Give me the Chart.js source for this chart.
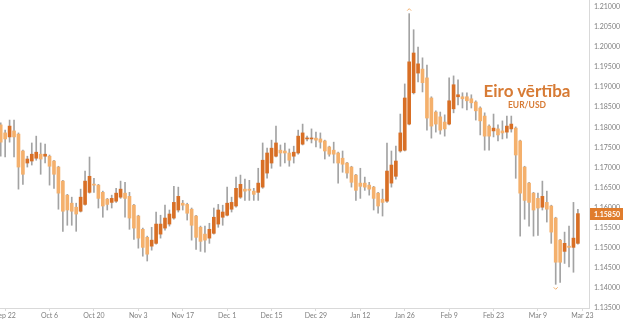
<!DOCTYPE html>
<html>
<head>
<meta charset="utf-8">
<script src="https://cdn.jsdelivr.net/npm/chart.js@4.4.1/dist/chart.umd.min.js"></script>
<style>
  html, body { margin: 0; padding: 0; background: #fff; }
  #wrap { position: relative; width: 623px; height: 322px; }
  #title { position: absolute; left: 447px; top: 82px; width: 160px; text-align: center;
           font: bold 17px Lato, sans-serif; line-height: 17px; color: #d77b35; }
  #subtitle { position: absolute; left: 447px; top: 101px; width: 160px; text-align: center;
              font: bold 8.5px Lato, sans-serif; line-height: 9px; color: #d77b35; }
</style>
</head>
<body>
<div id="wrap">
  <canvas id="chart" width="623" height="322"></canvas>
  <div id="title">Eiro vērtība</div>
  <div id="subtitle">EUR/USD</div>
</div>
<script>
// daily EUR/USD candles, Sep 19 .. Mar 20 (weekdays)
const opens = [
  1.1806,1.1786,1.1776,1.1791,1.1783,1.1741,1.1711,1.1716,1.1723,1.1733,
  1.1728,1.1728,1.1716,1.1701,1.1666,1.1631,1.1611,1.1601,1.1591,1.1608,
  1.1638,1.1658,1.1656,1.1638,1.1621,1.1613,1.1616,1.1626,1.1636,1.1628,
  1.1606,1.1579,1.1546,1.1526,1.1504,1.1511,1.1534,1.1549,1.1559,1.1574,
  1.1594,1.1611,1.1608,1.1596,1.1579,1.1551,1.1534,1.1524,1.1536,1.1559,
  1.1576,1.1581,1.1596,1.1604,1.1626,1.1646,1.1646,1.1641,1.1638,1.1651,
  1.1686,1.1711,1.1728,1.1743,1.1741,1.1736,1.1728,1.1736,1.1758,1.1771,
  1.1771,1.1773,1.1771,1.1766,1.1751,1.1743,1.1736,1.1723,1.1711,1.1701,
  1.1681,1.1661,1.1661,1.1656,1.1651,1.1636,1.1621,1.1616,1.1661,1.1678,
  1.1741,1.1743,1.1808,1.1886,1.1935,1.1945,1.1923,1.1873,1.1838,1.1826,
  1.1813,1.1808,1.1846,1.1876,1.1876,1.1876,1.1871,1.1863,1.1848,1.1828,
  1.1803,1.1791,1.1796,1.1791,1.1788,1.1796,1.1798,1.1766,1.1701,1.1661,
  1.1636,1.1623,1.1601,1.1613,1.1604,1.1574,1.1519,1.1491,1.1504,1.1501,
  1.1511
];
const highs = [
  1.1811,1.1793,1.1818,1.1818,1.1786,1.1743,1.1728,1.1761,1.1778,1.1761,
  1.1758,1.1731,1.1718,1.1703,1.1668,1.1633,1.1626,1.1611,1.1646,1.1691,
  1.1726,1.1673,1.1658,1.1641,1.1623,1.1631,1.1648,1.1666,1.1663,1.1638,
  1.1608,1.1581,1.1549,1.1529,1.1551,1.1589,1.1581,1.1606,1.1594,1.1653,
  1.1651,1.1618,1.1611,1.1599,1.1581,1.1554,1.1554,1.1561,1.1599,1.1608,
  1.1606,1.1651,1.1626,1.1676,1.1681,1.1671,1.1668,1.1648,1.1698,1.1761,
  1.1748,1.1768,1.1803,1.1756,1.1761,1.1746,1.1753,1.1793,1.1808,1.1778,
  1.1796,1.1788,1.1786,1.1768,1.1753,1.1763,1.1738,1.1741,1.1713,1.1703,
  1.1683,1.1698,1.1676,1.1663,1.1653,1.1638,1.1646,1.1761,1.1741,1.1753,
  1.1833,1.1908,1.2083,1.2043,1.2000,1.1973,1.1955,1.1876,1.1841,1.1838,
  1.1831,1.1923,1.1928,1.1918,1.1886,1.1886,1.1881,1.1866,1.1851,1.1836,
  1.1806,1.1833,1.1806,1.1816,1.1828,1.1828,1.1801,1.1768,1.1703,1.1663,
  1.1638,1.1636,1.1666,1.1641,1.1606,1.1576,1.1521,1.1539,1.1554,1.1613,
  1.1596
];
const lows = [
  1.1728,1.1726,1.1763,1.1726,1.1646,1.1658,1.1701,1.1706,1.1718,1.1683,
  1.1711,1.1656,1.1648,1.1596,1.1541,1.1556,1.1556,1.1541,1.1589,1.1606,
  1.1636,1.1638,1.1599,1.1576,1.1594,1.1599,1.1613,1.1623,1.1576,1.1546,
  1.1521,1.1499,1.1479,1.1467,1.1494,1.1509,1.1524,1.1544,1.1554,1.1571,
  1.1589,1.1594,1.1569,1.1519,1.1496,1.1491,1.1489,1.1511,1.1534,1.1551,
  1.1556,1.1579,1.1589,1.1601,1.1623,1.1618,1.1618,1.1618,1.1618,1.1648,
  1.1673,1.1698,1.1726,1.1703,1.1711,1.1703,1.1711,1.1733,1.1756,1.1766,
  1.1761,1.1751,1.1748,1.1721,1.1728,1.1711,1.1661,1.1688,1.1673,1.1651,
  1.1618,1.1623,1.1643,1.1631,1.1594,1.1586,1.1579,1.1613,1.1651,1.1671,
  1.1738,1.1741,1.1806,1.1883,1.1913,1.1888,1.1793,1.1773,1.1788,1.1783,
  1.1778,1.1806,1.1836,1.1856,1.1848,1.1843,1.1848,1.1818,1.1781,1.1743,
  1.1743,1.1776,1.1766,1.1771,1.1773,1.1788,1.1673,1.1529,1.1571,1.1554,
  1.1529,1.1531,1.1594,1.1564,1.1511,1.1409,1.1414,1.1461,1.1452,1.1439,
  1.1509
];
const closes = [
  1.1763,1.1771,1.1803,1.1776,1.1701,1.1683,1.1721,1.1733,1.1738,1.1721,
  1.1733,1.1703,1.1683,1.1636,1.1591,1.1594,1.1591,1.1584,1.1626,1.1666,
  1.1678,1.1656,1.1623,1.1604,1.1608,1.1623,1.1636,1.1646,1.1623,1.1574,
  1.1549,1.1524,1.1501,1.1484,1.1519,1.1559,1.1559,1.1574,1.1584,1.1613,
  1.1628,1.1606,1.1586,1.1556,1.1526,1.1516,1.1519,1.1546,1.1576,1.1594,
  1.1589,1.1611,1.1613,1.1648,1.1658,1.1641,1.1643,1.1633,1.1661,1.1718,
  1.1736,1.1748,1.1761,1.1736,1.1736,1.1718,1.1738,1.1778,1.1786,1.1773,
  1.1773,1.1768,1.1763,1.1741,1.1733,1.1733,1.1711,1.1708,1.1686,1.1663,
  1.1643,1.1653,1.1651,1.1646,1.1623,1.1604,1.1613,1.1691,1.1706,1.1716,
  1.1786,1.1873,1.1963,1.1985,1.1958,1.1911,1.1823,1.1803,1.1808,1.1793,
  1.1796,1.1866,1.1906,1.1881,1.1871,1.1866,1.1861,1.1841,1.1816,1.1778,
  1.1778,1.1798,1.1781,1.1786,1.1803,1.1808,1.1731,1.1636,1.1618,1.1613,
  1.1594,1.1599,1.1628,1.1596,1.1539,1.1464,1.1464,1.1511,1.1501,1.1524,
  1.1585
];

// x axis: trading-day number of each labelled Monday
const xTickDays = [1, 11, 21, 31, 41, 51, 61, 71, 81, 91, 101, 111, 121, 131];
const xTickLabels = ['Sep 22', 'Oct 6', 'Oct 20', 'Nov 3', 'Nov 17', 'Dec 1', 'Dec 15',
                     'Dec 29', 'Jan 12', 'Jan 26', 'Feb 9', 'Feb 23', 'Mar 9', 'Mar 23'];
const priceTicks = [1.135, 1.14, 1.145, 1.15, 1.155, 1.16, 1.165, 1.17, 1.175,
                    1.18, 1.185, 1.19, 1.195, 1.2, 1.205, 1.21];

const upColor = '#d86f25';
const downColor = '#f4b06c';
const wickColor = '#a3a3a3';
const axisColor = '#d9d9d9';
const labelColor = '#7f7f7f';
const tickFont = { family: "'Liberation Sans Narrow', Lato, sans-serif", size: 7 };

// little carets over the highest high and under the lowest low
const extremes = {
  id: 'extremes',
  afterDatasetsDraw(chart) {
    const { ctx, scales: { x, y } } = chart;
    const hi = Math.max(...highs);
    const lo = Math.min(...lows);
    ctx.save();
    ctx.strokeStyle = downColor;
    ctx.lineWidth = 1;
    let px = x.getPixelForValue(highs.indexOf(hi));
    let py = y.getPixelForValue(hi) - 3;
    ctx.beginPath();
    ctx.moveTo(px - 2, py); ctx.lineTo(px, py - 2); ctx.lineTo(px + 2, py);
    ctx.stroke();
    px = x.getPixelForValue(lows.indexOf(lo));
    py = y.getPixelForValue(lo) + 3;
    ctx.beginPath();
    ctx.moveTo(px - 2, py); ctx.lineTo(px, py + 2); ctx.lineTo(px + 2, py);
    ctx.stroke();
    ctx.restore();
  }
};

// orange tag with the last close on the price axis
const lastPrice = {
  id: 'lastPrice',
  afterDraw(chart) {
    const { ctx, chartArea, scales: { y } } = chart;
    const last = closes[closes.length - 1];
    const py = Math.round(y.getPixelForValue(last));
    ctx.save();
    ctx.fillStyle = '#e07c2c';
    ctx.fillRect(chartArea.right + 1, py - 6, chart.width - chartArea.right - 1, 12);
    ctx.fillStyle = '#ffffff';
    ctx.font = "bold 7px 'Liberation Sans Narrow', Lato, sans-serif";
    ctx.textBaseline = 'middle';
    ctx.fillText(last.toFixed(5), chartArea.right + 5, py + 0.5);
    ctx.restore();
  }
};

new Chart(document.getElementById('chart'), {
  type: 'bar',
  data: {
    datasets: [
      {
        label: 'body',
        data: opens.map((o, i) => ({ x: i, y: [o, closes[i]] })),
        backgroundColor: c => closes[c.dataIndex] >= opens[c.dataIndex] ? upColor : downColor,
        barThickness: 3,
        minBarLength: 1,
        grouped: false,
        order: 1
      },
      {
        label: 'wick',
        data: lows.map((l, i) => ({ x: i, y: [l, highs[i]] })),
        backgroundColor: wickColor,
        barThickness: 1,
        grouped: false,
        order: 2
      }
    ]
  },
  options: {
    responsive: false,
    animation: false,
    devicePixelRatio: 1,
    layout: { padding: 0 },
    plugins: { legend: { display: false }, tooltip: { enabled: false } },
    scales: {
      x: {
        type: 'linear',
        bounds: 'data',
        offset: false,
        min: -0.16,
        max: 132.5,
        grid: { offset: false, drawOnChartArea: false, drawTicks: true, tickLength: 3, color: axisColor },
        border: { color: axisColor },
        ticks: {
          autoSkip: false,
          maxRotation: 0,
          padding: 1,
          color: labelColor,
          font: tickFont,
          callback: (v, i) => xTickLabels[i]
        },
        afterBuildTicks: s => { s.ticks = xTickDays.map(v => ({ value: v })); },
        afterFit: s => { s.height = 14; s.paddingLeft = 0; s.paddingRight = 0; }
      },
      y: {
        position: 'right',
        bounds: 'data',
        min: 1.135,
        max: 1.2117,
        grid: { drawOnChartArea: false, drawTicks: false },
        border: { color: axisColor },
        ticks: {
          padding: 5,
          color: labelColor,
          font: tickFont,
          callback: v => v.toFixed(5)
        },
        afterBuildTicks: s => { s.ticks = priceTicks.map(v => ({ value: v })); },
        afterFit: s => { s.width = 34; s.paddingTop = 0; s.paddingBottom = 0; }
      }
    }
  },
  plugins: [extremes, lastPrice]
});
</script>
</body>
</html>
